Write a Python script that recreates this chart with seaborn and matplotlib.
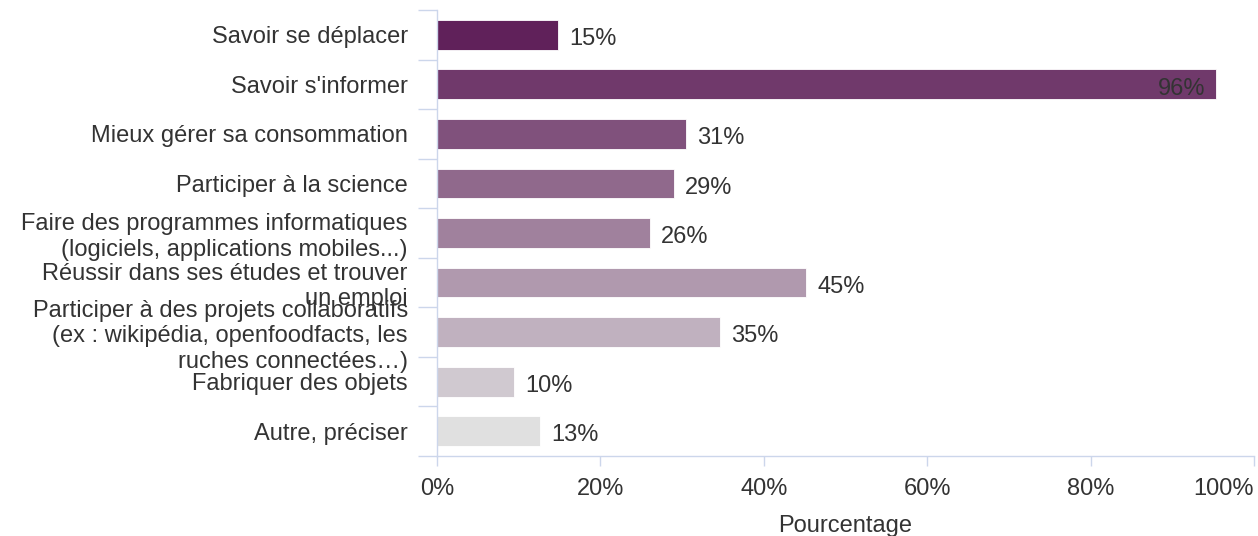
import matplotlib
matplotlib.use("Agg")
import matplotlib.pyplot as plt
import seaborn as sns
import numpy as np

# data
categories = [
    "Savoir se déplacer",
    "Savoir s'informer",
    "Mieux gérer sa consommation",
    "Participer à la science",
    "Faire des programmes informatiques\n(logiciels, applications mobiles...)",
    "Réussir dans ses études et trouver\nun emploi",
    "Participer à des projets collaboratifs\n(ex : wikipédia, openfoodfacts, les\nruches connectées…)",
    "Fabriquer des objets",
    "Autre, préciser",
]
values = [14.8, 95.3, 30.5, 29.0, 26.1, 45.2, 34.6, 9.4, 12.6]
value_labels = ["15%", "96%", "31%", "29%", "26%", "45%", "35%", "10%", "13%"]
x_ticks = [0, 20, 40, 60, 80, 100]

sns.set_style("white")
plt.rcParams["font.family"] = ["Liberation Sans", "DejaVu Sans"]
text_col = "#333333"
axis_col = "#ccd6eb"

palette = sns.blend_palette(["#60215a", "#e0e0e0"], len(categories))

fig = plt.figure(figsize=(12.58, 5.36), dpi=100)
ax = fig.add_axes([0.3474, 0.1493, 0.6494, 0.832])

sns.barplot(x=values, y=categories, hue=categories, palette=palette,
            legend=False, orient="h", width=0.6, saturation=1,
            edgecolor="white", linewidth=0.6, ax=ax)

ax.set_xlim(0, 100)
ax.set_ylim(len(categories) - 0.5, -0.5)
ax.set_xticks(x_ticks)
ax.set_xticklabels([f"{t}%" for t in x_ticks])
ax.get_xticklabels()[-1].set_ha("right")
ax.set_xlabel("Pourcentage", fontsize=17, color=text_col, labelpad=11)
ax.set_ylabel("")

# category boundary ticks on the y axis
ax.set_yticks(np.arange(-0.5, len(categories)), minor=True)
ax.tick_params(axis="y", which="minor", length=14, width=1, color=axis_col, left=True)
ax.tick_params(axis="y", which="major", length=0, pad=21, labelsize=17, labelcolor=text_col)
ax.tick_params(axis="x", which="major", length=7, width=1, color=axis_col, bottom=True,
               pad=9, labelsize=17, labelcolor=text_col)
for lbl in ax.get_yticklabels():
    lbl.set_linespacing(1.2)
    lbl.set_multialignment("right")

for side in ["top", "right"]:
    ax.spines[side].set_visible(False)
for side in ["left", "bottom"]:
    ax.spines[side].set_color(axis_col)
    ax.spines[side].set_linewidth(1)

# data labels: outside the bar, inside when it would overflow
for i, (v, lab) in enumerate(zip(values, value_labels)):
    if v > 90:
        ax.annotate(lab, (v, i), xytext=(-7, -3), textcoords="offset points",
                    ha="right", va="center", fontsize=17, color=text_col)
    else:
        ax.annotate(lab, (v, i), xytext=(8, -3), textcoords="offset points",
                    ha="left", va="center", fontsize=17, color=text_col)

fig.savefig("out.png", dpi=100)
